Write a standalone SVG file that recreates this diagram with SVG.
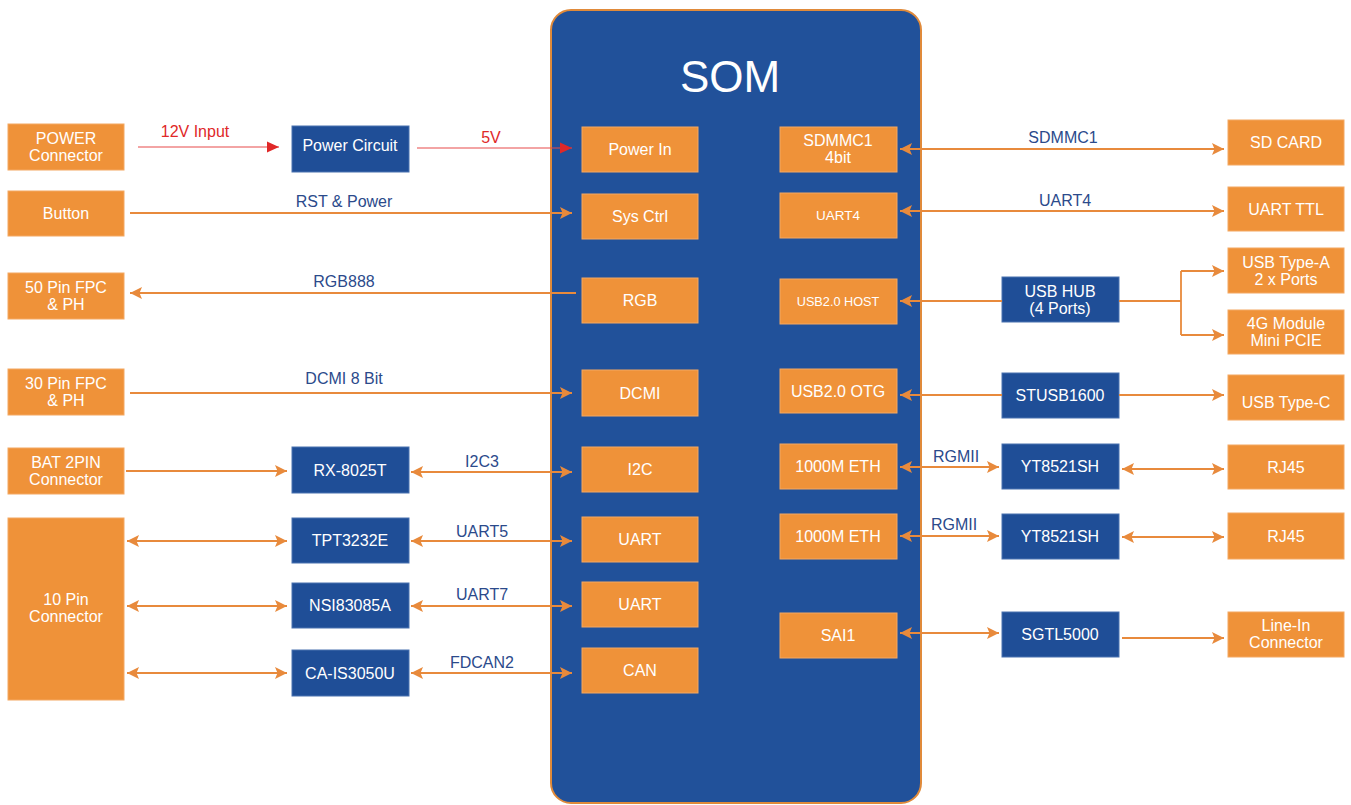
<svg xmlns="http://www.w3.org/2000/svg" width="1351" height="805" viewBox="0 0 1351 805">
<style>
.bg{fill:#ffffff}
.som{fill:#21519A;stroke:#E08A3A;stroke-width:2}
.o{fill:#EF9239;stroke:#F4A862;stroke-width:1}
.b{fill:#1F4E97;stroke:#4A72B0;stroke-width:1}
text{font-family:"Liberation Sans",Arial,sans-serif;text-anchor:middle}
.t{fill:#ffffff;font-size:16px}
.ts{fill:#ffffff;font-size:13.5px}
.tx{fill:#ffffff;font-size:12.7px}
.lbl{fill:#2B4A8B;font-size:16px}
.red{fill:#E02828;font-size:16px}
.title{fill:#ffffff;font-size:44px}
.c{fill:none;stroke:#E88A3C;stroke-width:1.8}
.cr{fill:none;stroke:#E84A4A;stroke-width:1.2}
</style>
<defs>
<marker id="ao" markerUnits="userSpaceOnUse" markerWidth="13" markerHeight="13" refX="12" refY="6.5" orient="auto-start-reverse">
<path d="M0,0.5 L12,6.5 L0,12.5 L2.5,6.5 Z" fill="#E88A3C"/>
</marker>
<marker id="ar" markerUnits="userSpaceOnUse" markerWidth="13" markerHeight="12" refX="12" refY="6" orient="auto">
<path d="M0,0.5 L12,6 L0,11.5 Z" fill="#E02828"/>
</marker>
</defs>
<rect class="bg" x="0" y="0" width="1351" height="805"/>

<g id="som">
<rect class="som" x="551" y="10" width="370" height="793" rx="20"/>
<text class="title" x="730" y="92">SOM</text>
</g>

<g id="power-connector"><rect class="o" x="8" y="124" width="116" height="46"/><text class="t" x="66" y="144">POWER</text><text class="t" x="66" y="161">Connector</text></g>
<g id="button"><rect class="o" x="8" y="191" width="116" height="45"/><text class="t" x="66" y="219">Button</text></g>
<g id="fpc50"><rect class="o" x="8" y="273" width="116" height="46"/><text class="t" x="66" y="293">50 Pin FPC</text><text class="t" x="66" y="310">&amp; PH</text></g>
<g id="fpc30"><rect class="o" x="8" y="369" width="116" height="46"/><text class="t" x="66" y="389">30 Pin FPC</text><text class="t" x="66" y="406">&amp; PH</text></g>
<g id="bat"><rect class="o" x="8" y="448" width="116" height="46"/><text class="t" x="66" y="468">BAT 2PIN</text><text class="t" x="66" y="485">Connector</text></g>
<g id="pin10"><rect class="o" x="8" y="518" width="116" height="182"/><text class="t" x="66" y="605">10 Pin</text><text class="t" x="66" y="622">Connector</text></g>

<g id="power-circuit"><rect class="b" x="292" y="126" width="117" height="46"/><text class="t" x="350" y="151">Power Circuit</text></g>
<g id="rx8025t"><rect class="b" x="292" y="447" width="117" height="46"/><text class="t" x="350" y="476">RX-8025T</text></g>
<g id="tpt3232e"><rect class="b" x="292" y="518" width="117" height="45"/><text class="t" x="350" y="546">TPT3232E</text></g>
<g id="nsi83085a"><rect class="b" x="292" y="583" width="117" height="45"/><text class="t" x="350" y="611">NSI83085A</text></g>
<g id="ca-is3050u"><rect class="b" x="292" y="650" width="117" height="46"/><text class="t" x="350" y="679">CA-IS3050U</text></g>

<g id="power-in"><rect class="o" x="582" y="127" width="116" height="45"/><text class="t" x="640" y="155">Power In</text></g>
<g id="sys-ctrl"><rect class="o" x="582" y="194" width="116" height="45"/><text class="t" x="640" y="222">Sys Ctrl</text></g>
<g id="rgb"><rect class="o" x="582" y="278" width="116" height="45"/><text class="t" x="640" y="306">RGB</text></g>
<g id="dcmi"><rect class="o" x="582" y="370" width="116" height="46"/><text class="t" x="640" y="399">DCMI</text></g>
<g id="i2c"><rect class="o" x="582" y="447" width="116" height="45"/><text class="t" x="640" y="475">I2C</text></g>
<g id="uart-a"><rect class="o" x="582" y="517" width="116" height="45"/><text class="t" x="640" y="545">UART</text></g>
<g id="uart-b"><rect class="o" x="582" y="582" width="116" height="45"/><text class="t" x="640" y="610">UART</text></g>
<g id="can"><rect class="o" x="582" y="648" width="116" height="45"/><text class="t" x="640" y="676">CAN</text></g>

<g id="sdmmc1"><rect class="o" x="780" y="127" width="117" height="45"/><text class="t" x="838" y="146">SDMMC1</text><text class="t" x="838" y="163">4bit</text></g>
<g id="uart4"><rect class="o" x="780" y="193" width="117" height="45"/><text class="ts" x="838" y="220">UART4</text></g>
<g id="usb-host"><rect class="o" x="780" y="279" width="117" height="45"/><text class="tx" x="838" y="306">USB2.0 HOST</text></g>
<g id="usb-otg"><rect class="o" x="780" y="369" width="117" height="44"/><text class="t" x="838" y="397">USB2.0 OTG</text></g>
<g id="eth1"><rect class="o" x="780" y="444" width="117" height="45"/><text class="t" x="838" y="472">1000M ETH</text></g>
<g id="eth2"><rect class="o" x="780" y="514" width="117" height="45"/><text class="t" x="838" y="542">1000M ETH</text></g>
<g id="sai1"><rect class="o" x="780" y="613" width="117" height="45"/><text class="t" x="838" y="641">SAI1</text></g>

<g id="usb-hub"><rect class="b" x="1002" y="277" width="117" height="45"/><text class="t" x="1060" y="297">USB HUB</text><text class="t" x="1060" y="314">(4 Ports)</text></g>
<g id="stusb1600"><rect class="b" x="1002" y="373" width="117" height="45"/><text class="t" x="1060" y="401">STUSB1600</text></g>
<g id="yt8521sh-1"><rect class="b" x="1002" y="444" width="117" height="45"/><text class="t" x="1060" y="472">YT8521SH</text></g>
<g id="yt8521sh-2"><rect class="b" x="1002" y="514" width="117" height="45"/><text class="t" x="1060" y="542">YT8521SH</text></g>
<g id="sgtl5000"><rect class="b" x="1002" y="612" width="117" height="45"/><text class="t" x="1060" y="640">SGTL5000</text></g>

<g id="sd-card"><rect class="o" x="1228" y="120" width="116" height="45"/><text class="t" x="1286" y="148">SD CARD</text></g>
<g id="uart-ttl"><rect class="o" x="1228" y="187" width="116" height="44"/><text class="t" x="1286" y="215">UART TTL</text></g>
<g id="usb-type-a"><rect class="o" x="1228" y="248" width="116" height="45"/><text class="t" x="1286" y="268">USB Type-A</text><text class="t" x="1286" y="285">2 x Ports</text></g>
<g id="module-4g"><rect class="o" x="1228" y="310" width="116" height="44"/><text class="t" x="1286" y="329">4G Module</text><text class="t" x="1286" y="346">Mini PCIE</text></g>
<g id="usb-type-c"><rect class="o" x="1228" y="375" width="116" height="45"/><text class="t" x="1286" y="408">USB Type-C</text></g>
<g id="rj45-1"><rect class="o" x="1228" y="445" width="116" height="44"/><text class="t" x="1286" y="473">RJ45</text></g>
<g id="rj45-2"><rect class="o" x="1228" y="513" width="116" height="46"/><text class="t" x="1286" y="542">RJ45</text></g>
<g id="line-in"><rect class="o" x="1228" y="612" width="116" height="45"/><text class="t" x="1286" y="631">Line-In</text><text class="t" x="1286" y="648">Connector</text></g>

<g id="connectors">
<path class="cr" d="M138,147 H279" marker-end="url(#ar)"/>
<path class="cr" d="M417,148 H572" marker-end="url(#ar)"/>
<path class="c" d="M130,213 H572" marker-end="url(#ao)"/>
<path class="c" d="M576,293 H130" marker-end="url(#ao)"/>
<path class="c" d="M130,393 H572" marker-end="url(#ao)"/>
<path class="c" d="M126,471 H287" marker-end="url(#ao)"/>
<path class="c" d="M411,472 H572" marker-start="url(#ao)" marker-end="url(#ao)"/>
<path class="c" d="M127,541 H287" marker-start="url(#ao)" marker-end="url(#ao)"/>
<path class="c" d="M411,541 H572" marker-start="url(#ao)" marker-end="url(#ao)"/>
<path class="c" d="M127,606 H287" marker-start="url(#ao)" marker-end="url(#ao)"/>
<path class="c" d="M411,606 H572" marker-start="url(#ao)" marker-end="url(#ao)"/>
<path class="c" d="M127,673 H287" marker-start="url(#ao)" marker-end="url(#ao)"/>
<path class="c" d="M411,673 H572" marker-start="url(#ao)" marker-end="url(#ao)"/>
<path class="c" d="M900,149 H1224" marker-start="url(#ao)" marker-end="url(#ao)"/>
<path class="c" d="M900,211 H1224" marker-start="url(#ao)" marker-end="url(#ao)"/>
<path class="c" d="M1002,301 H900" marker-end="url(#ao)"/>
<path class="c" d="M1119,301 H1181 M1181,271 V335"/>
<path class="c" d="M1181,271 H1224" marker-end="url(#ao)"/>
<path class="c" d="M1181,335 H1224" marker-end="url(#ao)"/>
<path class="c" d="M1002,395 H900" marker-end="url(#ao)"/>
<path class="c" d="M1119,395 H1224" marker-end="url(#ao)"/>
<path class="c" d="M900,467 H999" marker-start="url(#ao)" marker-end="url(#ao)"/>
<path class="c" d="M1122,469 H1224" marker-start="url(#ao)" marker-end="url(#ao)"/>
<path class="c" d="M900,536 H999" marker-start="url(#ao)" marker-end="url(#ao)"/>
<path class="c" d="M1122,537 H1224" marker-start="url(#ao)" marker-end="url(#ao)"/>
<path class="c" d="M900,633 H999" marker-start="url(#ao)" marker-end="url(#ao)"/>
<path class="c" d="M1122,638 H1224" marker-end="url(#ao)"/>
</g>

<g id="labels">
<text class="red" x="195" y="137">12V Input</text>
<text class="red" x="491" y="143">5V</text>
<text class="lbl" x="344" y="207">RST &amp; Power</text>
<text class="lbl" x="344" y="287">RGB888</text>
<text class="lbl" x="344" y="384">DCMI 8 Bit</text>
<text class="lbl" x="482" y="467">I2C3</text>
<text class="lbl" x="482" y="537">UART5</text>
<text class="lbl" x="482" y="600">UART7</text>
<text class="lbl" x="482" y="668">FDCAN2</text>
<text class="lbl" x="1063" y="143">SDMMC1</text>
<text class="lbl" x="1065" y="206">UART4</text>
<text class="lbl" x="956" y="462">RGMII</text>
<text class="lbl" x="954" y="530">RGMII</text>
</g>
</svg>
